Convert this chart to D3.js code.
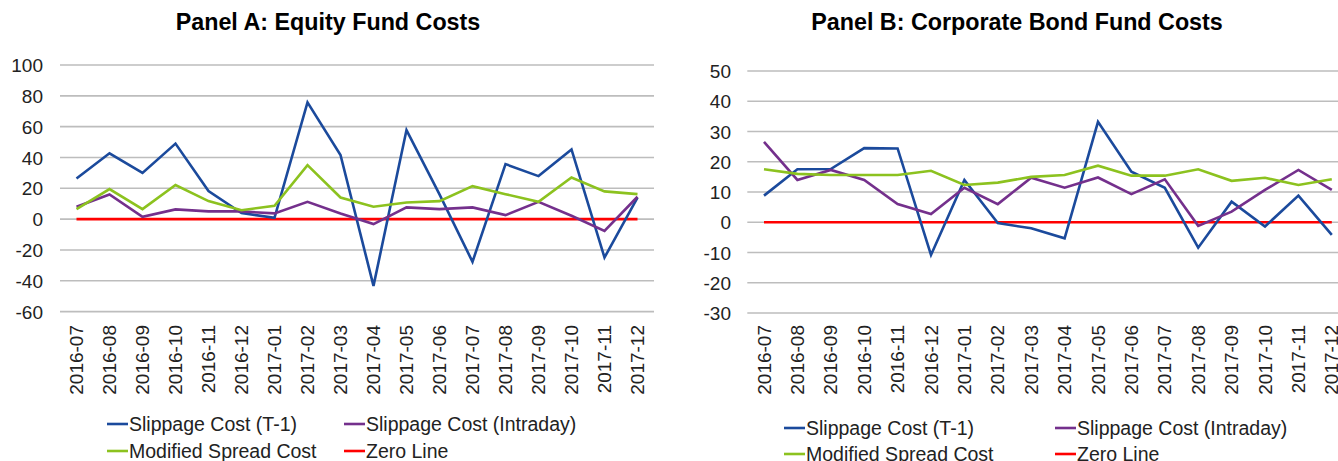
<!DOCTYPE html>
<html>
  <head>
    <meta charset="UTF-8">
    <title>Fund Costs</title>
    <style>
      body { margin: 0; background: #fff; }
      svg { display: block; font-family: "Liberation Sans", Arial, sans-serif; }
    </style>
  </head>
  <body>

    <svg></svg>

    <script src="https://d3js.org/d3.v7.min.js"></script>
    <script>

/* DATA */
var months = ["2016-07","2016-08","2016-09","2016-10","2016-11","2016-12",
              "2017-01","2017-02","2017-03","2017-04","2017-05","2017-06",
              "2017-07","2017-08","2017-09","2017-10","2017-11","2017-12"];

var seriesNames = ["Slippage Cost (T-1)", "Slippage Cost (Intraday)", "Modified Spread Cost", "Zero Line"];

// Panel A: equity funds
var equityT1       = [26.4, 42.7, 30, 49, 18.2, 4, 0.8, 75.8, 41.6, -43.3, 57.8, 16, -27.7, 35.7, 27.9, 45.2, -24.9, 13.9];
var equityIntraday = [8, 16, 1.5, 6.3, 5, 5, 3.7, 11.2, 3.7, -3.2, 7.6, 6.5, 7.6, 2.6, 11.2, 2.2, -7.6, 14.5];
var equitySpread   = [6.5, 19.5, 6.5, 22.1, 11.7, 5.8, 8.7, 35, 14, 8, 10.8, 11.7, 21.4, 16.2, 11.2, 27, 18, 16.2];

// Panel B: corporate bond funds
var bondT1       = [8.8, 17.5, 17.6, 24.5, 24.4, -10.8, 14, -0.3, -2, -5.3, 33.2, 16.7, 11.4, -8.4, 6.8, -1.4, 8.8, -4.2];
var bondIntraday = [26.6, 14, 17.3, 14, 6, 2.7, 11.4, 6, 14.7, 11.4, 14.8, 9.3, 14.2, -1.2, 3.5, 10.7, 17.3, 10.7];
var bondSpread   = [17.5, 16, 15.6, 15.6, 15.6, 17, 12.3, 13.1, 15, 15.6, 18.7, 15.4, 15.4, 17.5, 13.7, 14.7, 12.3, 14.2];

var zeroLine = months.map(function(){ return 0; });

var equityTicks = [-60, -40, -20, 0, 20, 40, 60, 80, 100];
var bondTicks   = [-30, -20, -10, 0, 10, 20, 30, 40, 50];

var colors = ["#1b4a9c", "#74308c", "#8cc21f", "#ff0000"];

var config = {
  "width": 1338,
  "height": 461,
  "fontSize": 19
};

var svg = d3.select("svg")
  .attr("width", config.width)
  .attr("height", config.height);

function drawPanel(p) {
  var g = svg.append("g");

  var x = d3.scaleBand()
    .domain(months)
    .range([p.left, p.left + p.band * months.length]);

  var y = d3.scaleLinear()
    .domain([p.ticks[0], p.ticks[p.ticks.length - 1]])
    .range([p.bottom, p.top]);

  // title
  g.append("text")
    .attr("x", p.titleX)
    .attr("y", 30)
    .attr("text-anchor", "middle")
    .attr("font-size", 23.3)
    .attr("font-weight", "bold")
    .attr("fill", "#000")
    .text(p.title);

  // gridlines
  g.append("g")
    .selectAll("line")
    .data(p.ticks)
    .enter().append("line")
      .attr("x1", x.range()[0])
      .attr("x2", x.range()[1])
      .attr("y1", function(d){ return y(d); })
      .attr("y2", function(d){ return y(d); })
      .attr("stroke", "#bdbdbd")
      .attr("stroke-width", 1.6);

  // y axis labels (plain hyphen for negatives, like the original)
  var yAxis = g.append("g")
    .attr("transform", "translate(" + p.labelX + ",0)")
    .call(d3.axisLeft(y).tickValues(p.ticks).tickSize(0).tickPadding(0)
      .tickFormat(function(d){ return String(d); }));
  yAxis.select(".domain").remove();
  yAxis.selectAll("text")
    .attr("font-size", config.fontSize)
    .attr("font-family", "Liberation Sans, Arial, sans-serif")
    .attr("fill", "#222")
    .attr("text-anchor", "end")
    .attr("dy", "0.35em");

  // x axis labels, rotated
  var xAxis = g.append("g")
    .attr("transform", "translate(0," + p.xLabelY + ")")
    .call(d3.axisBottom(x).tickSize(0).tickPadding(0));
  xAxis.select(".domain").remove();
  xAxis.selectAll("text")
    .attr("font-size", config.fontSize)
    .attr("font-family", "Liberation Sans, Arial, sans-serif")
    .attr("fill", "#222")
    .attr("text-anchor", "end")
    .attr("transform", "rotate(-90)")
    .attr("x", 0)
    .attr("y", 0)
    .attr("dy", "0.35em");

  // lines
  var line = d3.line()
    .x(function(d, i){ return x(months[i]) + x.bandwidth() / 2; })
    .y(function(d){ return y(d); });

  var order = [3, 0, 1, 2];
  order.forEach(function(k) {
    g.append("path")
      .datum(p.series[k])
      .attr("fill", "none")
      .attr("stroke", colors[k])
      .attr("stroke-width", 2.6)
      .attr("stroke-linejoin", "miter")
      .attr("d", line);
  });

  // legend
  var legend = g.append("g")
    .selectAll("g")
    .data(seriesNames)
    .enter().append("g")
      .attr("transform", function(d, i){
        return "translate(" + p.legendX[i % 2] + "," + p.legendY[Math.floor(i / 2)] + ")";
      });

  legend.append("line")
    .attr("x1", 0)
    .attr("x2", 21)
    .attr("stroke", function(d, i){ return colors[i]; })
    .attr("stroke-width", 2.6);

  legend.append("text")
    .attr("x", 22)
    .attr("dy", "0.35em")
    .attr("font-size", 19.5)
    .attr("fill", "#222")
    .text(function(d){ return d; });
}

drawPanel({
  title: "Panel A: Equity Fund Costs",
  titleX: 328,
  left: 60,
  band: 33,
  top: 65,
  bottom: 311.6,
  labelX: 43,
  xLabelY: 325,
  ticks: equityTicks,
  series: [equityT1, equityIntraday, equitySpread, zeroLine],
  legendX: [107, 344],
  legendY: [424, 451]
});

drawPanel({
  title: "Panel B: Corporate Bond Fund Costs",
  titleX: 1017,
  left: 747.3,
  band: 33.4,
  top: 71,
  bottom: 313,
  labelX: 731,
  xLabelY: 325,
  ticks: bondTicks,
  series: [bondT1, bondIntraday, bondSpread, zeroLine],
  legendX: [784, 1055],
  legendY: [428, 454]
});

    </script>
  </body>
</html>
